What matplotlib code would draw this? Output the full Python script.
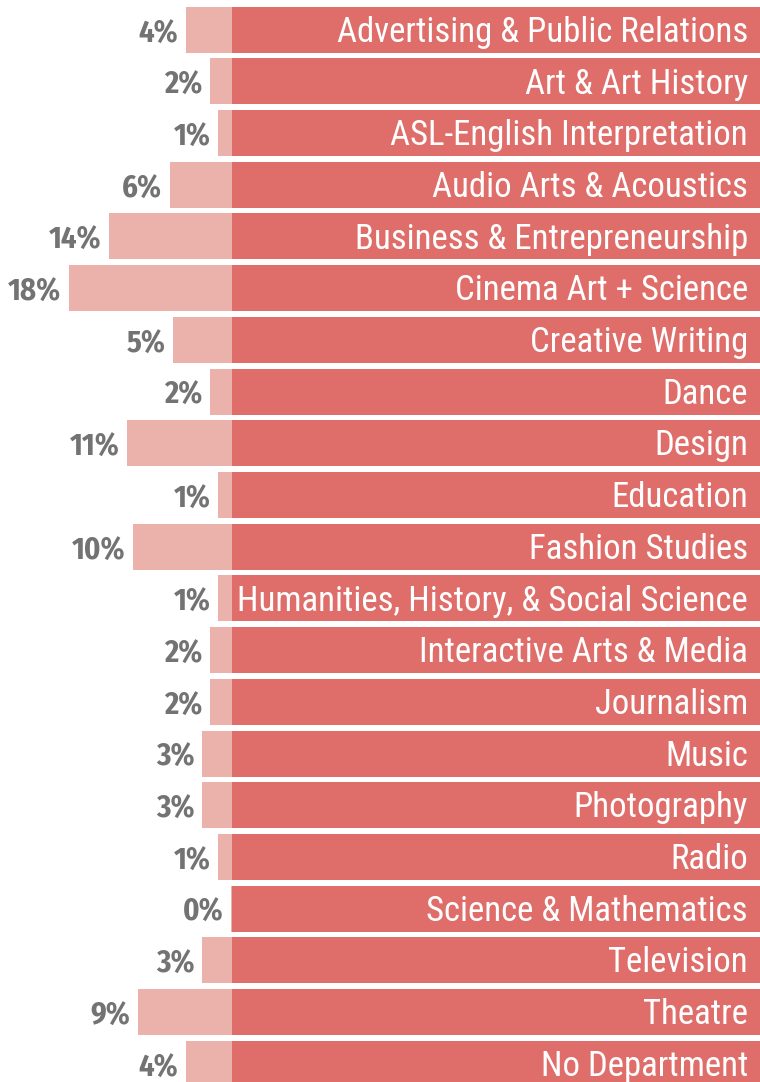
import matplotlib.pyplot as plt

departments = [
    "Advertising & Public Relations",
    "Art & Art History",
    "ASL-English Interpretation",
    "Audio Arts & Acoustics",
    "Business & Entrepreneurship",
    "Cinema Art + Science",
    "Creative Writing",
    "Dance",
    "Design",
    "Education",
    "Fashion Studies",
    "Humanities, History, & Social Science",
    "Interactive Arts & Media",
    "Journalism",
    "Music",
    "Photography",
    "Radio",
    "Science & Mathematics",
    "Television",
    "Theatre",
    "No Department",
]
# share of responses (bar length, %)
bar_share = [5.1, 2.4, 1.55, 6.85, 13.6, 18.0, 6.5, 2.4, 11.6, 1.55, 10.9,
             1.55, 2.4, 2.4, 3.3, 3.3, 1.55, 0.1, 3.3, 10.4, 5.1]
# printed labels
pct_label = [4, 2, 1, 6, 14, 18, 5, 2, 11, 1, 10, 1, 2, 2, 3, 3, 1, 0, 3, 9, 4]

DARK = "#DF6E6A"
LIGHT = "#EBB1AB"
GREY = "#737373"

NAME_FONT = ["Roboto Condensed", "Archivo Narrow", "DejaVu Sans"]
PCT_FONT = ["Fira Sans Condensed", "Liberation Sans", "DejaVu Sans"]

W, H = 760, 1082
PX_PER_PCT = 9.06
X0 = 232
PITCH = 51.7
FIRST_CENTER = 29.7

fig = plt.figure(figsize=(W / 100, H / 100), dpi=100)
ax = fig.add_axes([0, 0, 1, 1])
ax.set_xlim(-X0 / PX_PER_PCT, (W - X0) / PX_PER_PCT)
ax.set_ylim((H - FIRST_CENTER) / PITCH, -FIRST_CENTER / PITCH)
ax.axis("off")

n = len(departments)
ys = list(range(n))
h = 46 / PITCH
right = (W - X0) / PX_PER_PCT + 1

ax.barh(ys, [right] * n, left=0, height=h, color=DARK, linewidth=0)
ax.barh(ys, bar_share, left=[-v for v in bar_share], height=h, color=LIGHT, linewidth=0)

x_text = (748 - X0) / PX_PER_PCT
for y, name, v, p in zip(ys, departments, bar_share, pct_label):
    ax.text(x_text, y + 0.235, name, ha="right", va="baseline", color="white",
            fontsize=25, family=NAME_FONT, fontweight="normal")
    ax.text(-v - 0.85, y + 0.245, f"{p}%", ha="right", va="baseline", color=GREY,
            fontsize=22, family=PCT_FONT, fontweight="bold")

fig.savefig("out.png", dpi=100)
